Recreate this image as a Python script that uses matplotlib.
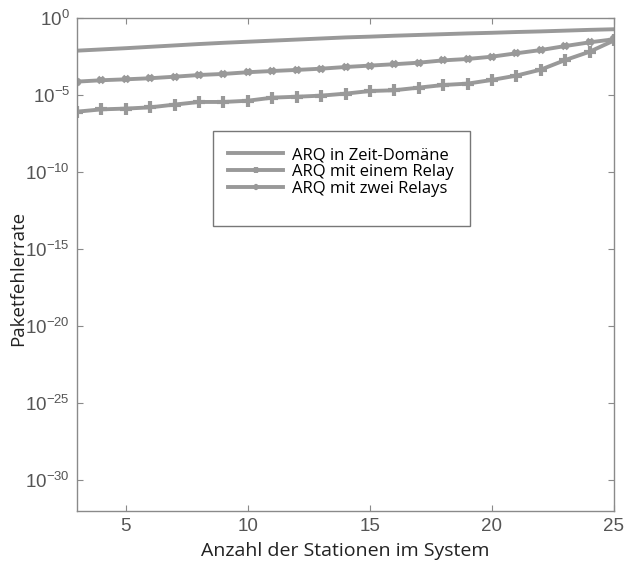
## Paketfehlerrate over Anzahl der Stationen (log scale)
import numpy as np
import matplotlib
matplotlib.use("Agg")
import matplotlib.pyplot as plt
from matplotlib.patches import Rectangle

## data as log10 of the error rate
stations = list(range(3, 26))
zeit_domaene_exp = [-2.12, -2.04, -1.96, -1.87, -1.78, -1.69, -1.61, -1.54, -1.47, -1.40, -1.33, -1.26,
                    -1.21, -1.15, -1.10, -1.05, -1.00, -0.96, -0.91, -0.87, -0.82, -0.77, -0.73]
ein_relay_exp = [-6.08, -5.93, -5.88, -5.80, -5.62, -5.45, -5.45, -5.37, -5.17, -5.11, -5.04, -4.91,
                 -4.74, -4.69, -4.52, -4.35, -4.26, -4.02, -3.74, -3.35, -2.73, -2.19, -1.46]
zwei_relays_exp = [-4.13, -4.04, -3.98, -3.91, -3.81, -3.70, -3.63, -3.52, -3.44, -3.37, -3.29, -3.18,
                   -3.09, -3.00, -2.90, -2.75, -2.66, -2.51, -2.29, -2.08, -1.82, -1.58, -1.38]
labels = ["ARQ in Zeit-Domäne", "ARQ mit einem Relay", "ARQ mit zwei Relays"]
ytick_exps = [0, -5, -10, -15, -20, -25, -30]
xticks = [5, 10, 15, 20, 25]

line_col = "#999999"
axis_col = "#8a8a8a"
tick_col = "#555555"

plt.rcParams["mathtext.fontset"] = "custom"
plt.rcParams["mathtext.rm"] = "Liberation Sans"
plt.rcParams["mathtext.it"] = "Liberation Sans"
plt.rcParams["mathtext.default"] = "regular"


def main():
    fig = plt.figure(figsize=(6.25, 5.66), dpi=100)
    ax = fig.add_axes([77 / 625, 1 - 511 / 566, (614 - 77) / 625, (511 - 18) / 566])

    ax.plot(stations, 10.0 ** np.array(zeit_domaene_exp), color=line_col, lw=2.8, label=labels[0])
    ax.plot(stations, 10.0 ** np.array(ein_relay_exp), color=line_col, lw=2.8, marker="+",
            ms=9, mew=3.0, label=labels[1])
    ax.plot(stations, 10.0 ** np.array(zwei_relays_exp), color=line_col, lw=2.8, marker="x",
            ms=5, mew=2.6, label=labels[2])

    ax.set_yscale("log")
    ax.set_xlim(3, 25)
    ax.set_ylim(1e-32, 1e0)
    ax.set_yticks([10.0 ** e for e in ytick_exps])
    ax.set_yticklabels([f"$10^{{{e}}}$" for e in ytick_exps])
    ax.yaxis.set_minor_locator(matplotlib.ticker.NullLocator())
    ax.set_xticks(xticks)
    ax.set_xticklabels([str(x) for x in xticks])

    for s in ax.spines.values():
        s.set_color(axis_col)
        s.set_linewidth(1.0)
    ax.tick_params(direction="in", length=4, color=axis_col, top=True, right=True,
                   labelsize=13.5, labelcolor=tick_col, pad=5)
    for t in ax.get_xticklabels() + ax.get_yticklabels():
        t.set_family("Liberation Sans")

    ax.set_xlabel("Anzahl der Stationen im System", fontsize=14, family="Open Sans",
                  color="#222222")
    ax.xaxis.set_label_coords(0.5, -(551 - 511) / 493, transform=ax.transAxes)
    ax.xaxis.label.set_va("center")
    ax.set_ylabel("Paketfehlerrate", fontsize=13.5, family="Open Sans", color="#222222")
    ax.yaxis.set_label_coords(-(77 - 18) / 537, (511 - 278) / 493)
    ax.yaxis.label.set_va("center")

    # legend box drawn separately, it has empty space at the bottom
    fig.patches.append(Rectangle((213 / 625, 1 - 226 / 566), 257 / 625, 95 / 566,
                                 transform=fig.transFigure, fill=True, facecolor="white",
                                 edgecolor="#777777", lw=1.0, zorder=5))
    leg = fig.legend(loc="upper left", bbox_to_anchor=(220 / 625, 1 - 139 / 566), frameon=False,
                     prop={"family": "Open Sans", "size": 12}, handlelength=3.3,
                     handletextpad=0.55, labelspacing=0.06, markerscale=0.5, borderpad=0.0)
    leg.set_zorder(6)

    plt.savefig("out.png", dpi=100)


if __name__ == "__main__":
    main()
